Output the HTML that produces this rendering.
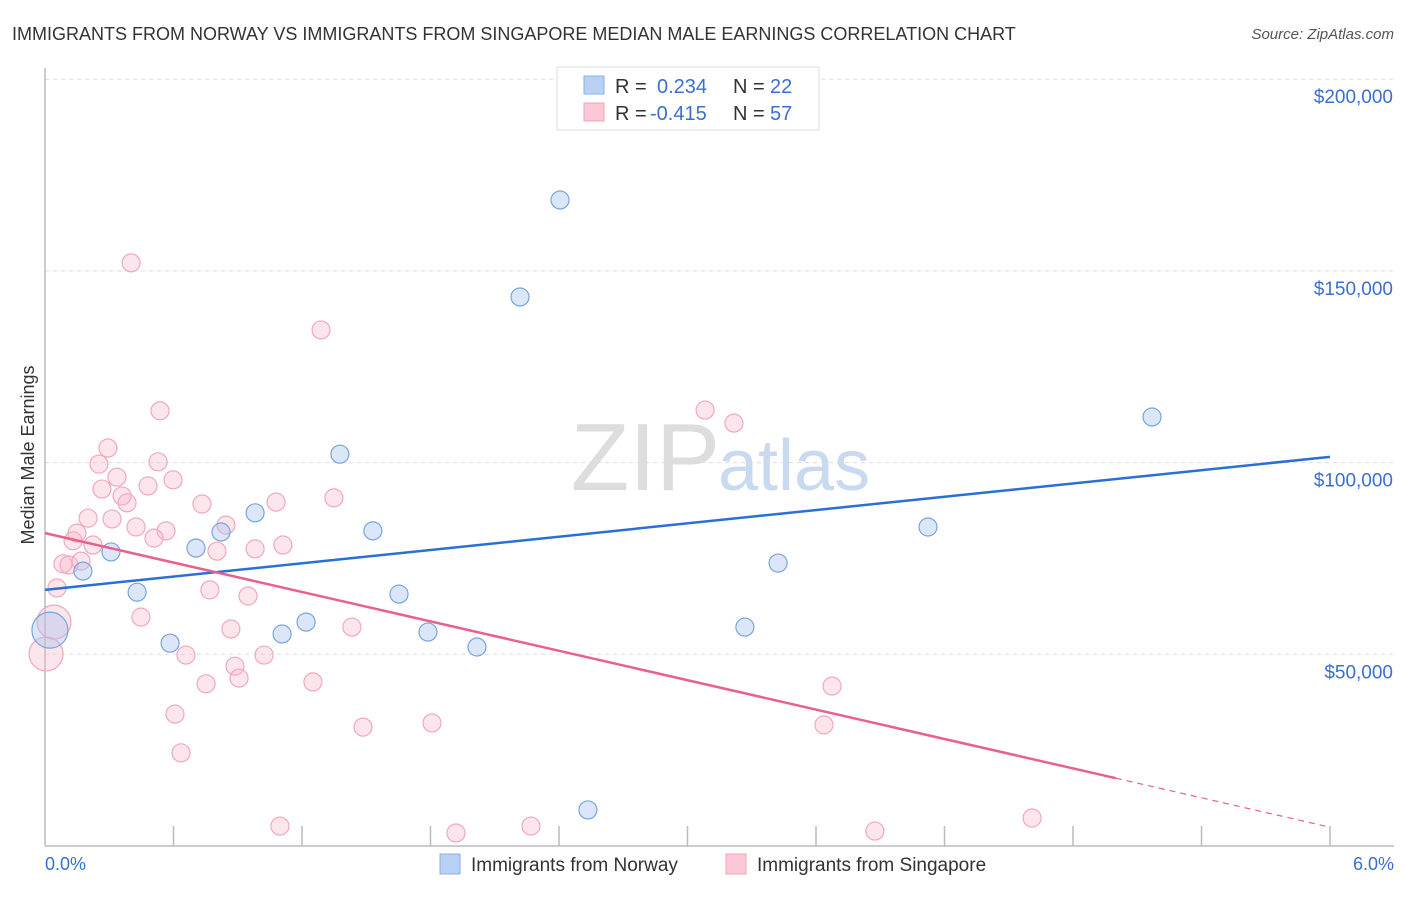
<!DOCTYPE html>
<html><head><meta charset="utf-8"><style>
body{margin:0;background:#fff;font-family:"Liberation Sans",sans-serif;}
svg text{font-family:"Liberation Sans",sans-serif;}
</style></head><body>
<svg width="1406" height="892" viewBox="0 0 1406 892" xmlns="http://www.w3.org/2000/svg">
<text x="12" y="40" font-size="18" fill="#333">IMMIGRANTS FROM NORWAY VS IMMIGRANTS FROM SINGAPORE MEDIAN MALE EARNINGS CORRELATION CHART</text>
<text x="1394" y="39" font-size="15" fill="#555" font-style="italic" text-anchor="end">Source: ZipAtlas.com</text>
<g id="grid"></g>
<text x="720" y="490" font-size="96" fill="#ddd" text-anchor="end" font-family="Liberation Serif">ZIP</text>
<text x="718" y="490" font-size="72" fill="#c9d9f0">atlas</text>
<line x1="45" y1="68" x2="45" y2="846" stroke="#bbb" stroke-width="1.5"/>
<line x1="45" y1="846" x2="1394" y2="846" stroke="#bbb" stroke-width="1.5"/>
<g id="xticks"></g>
<g id="ylabels"></g>
<text x="34" y="455" font-size="18" fill="#333" text-anchor="middle" transform="rotate(-90 34 455)">Median Male Earnings</text>
<text x="45" y="870" font-size="18" fill="#3a6fd0">0.0%</text>
<text x="1394" y="870" font-size="18" fill="#3a6fd0" text-anchor="end">6.0%</text>
<g id="pts"></g>
<g id="trends"></g>
<g>
<rect x="557" y="67" width="262" height="63" fill="#fff" stroke="#ddd"/>
<rect x="584" y="76" width="20" height="18" fill="#b8d0f4" stroke="#8ab0e8"/>
<rect x="584" y="103" width="20" height="18" fill="#fcc8d6" stroke="#f0a0b8"/>
<text x="615" y="93" font-size="20" fill="#333">R = </text><text x="657" y="93" font-size="20" fill="#3a6fd0">0.234</text>
<text x="733" y="93" font-size="20" fill="#333">N = </text><text x="770" y="93" font-size="20" fill="#3a6fd0">22</text>
<text x="615" y="120" font-size="20" fill="#333">R = </text><text x="650" y="120" font-size="20" fill="#3a6fd0">-0.415</text>
<text x="733" y="120" font-size="20" fill="#333">N = </text><text x="770" y="120" font-size="20" fill="#3a6fd0">57</text>
</g>
<g>
<rect x="440" y="854" width="20" height="20" fill="#b8d0f4" stroke="#8ab0e8"/>
<text x="471" y="871" font-size="19" fill="#333">Immigrants from Norway</text>
<rect x="726" y="854" width="20" height="20" fill="#fcc8d6" stroke="#f0a0b8"/>
<text x="757" y="871" font-size="19" fill="#333">Immigrants from Singapore</text>
</g>
</svg>
<script>
const yTicks=[50,100,150,200];
const yTickLabels=["$50,000","$100,000","$150,000","$200,000"];
const xTickCount=10;
const norwayX=[2.405,2.218,1.377,5.169,4.123,1.531,0.981,0.822,0.705,0.308,0.177,3.423,0.430,1.653,1.219,1.107,1.788,3.268,0.584,2.017,2.535,0.023];
const norwayY=[168.5,143.2,102.2,111.9,83.2,82.2,86.9,81.9,77.7,76.7,71.7,73.8,66.2,65.7,58.4,55.3,55.8,57.1,52.9,51.9,9.4,56.3];
const norwayBig=[0,0,0,0,0,0,0,0,0,0,0,0,0,0,0,0,0,0,0,0,0,1];
const singX=[0.402,1.289,0.537,0.294,0.252,0.528,0.336,0.598,0.481,0.266,0.360,0.383,1.349,1.079,0.733,0.201,0.313,0.425,0.565,0.845,0.149,0.509,0.131,0.224,1.111,0.981,0.803,0.084,0.112,0.168,3.082,3.217,0.056,0.770,0.948,0.448,0.042,0.868,1.433,0.658,1.023,0.005,0.887,0.906,0.752,1.251,3.675,0.607,1.485,1.807,3.637,0.635,1.097,1.919,2.269,3.875,4.609];
const singY=[152.1,134.6,113.5,103.8,99.6,100.2,96.2,95.5,93.9,93.1,91.3,89.5,90.8,89.7,89.2,85.5,85.3,83.2,82.2,83.7,81.6,80.3,79.6,78.5,78.5,77.5,76.9,73.6,73.3,74.3,113.7,110.3,67.3,66.8,65.2,59.7,58.4,56.6,57.1,49.8,49.8,50.1,46.9,43.8,42.3,42.8,41.7,34.4,31.0,32.1,31.6,24.3,5.2,3.4,5.2,3.9,7.3];
const singBig=[0,0,0,0,0,0,0,0,0,0,0,0,0,0,0,0,0,0,0,0,0,0,0,0,0,0,0,0,0,0,0,0,0,0,0,0,1,0,0,0,0,1,0,0,0,0,0,0,0,0,0,0,0,0,0,0,0];
const norwayTrend=[66.8,101.5];
const singTrend=[81.6,4.9];
const singSolidEnd=5.0;
const NS="http://www.w3.org/2000/svg";
const X=v=>45+v/6*1285, Y=v=>846-v*191.7/50;
function mk(t,a,p){const e=document.createElementNS(NS,t);for(const k in a)e.setAttribute(k,a[k]);p.appendChild(e);return e;}
const grid=document.getElementById('grid'),yl=document.getElementById('ylabels'),xt=document.getElementById('xticks');
yTicks.forEach((v,i)=>{
 const l=mk('line',{x1:45,x2:1394,y1:Y(v),y2:Y(v),stroke:'#ddd','stroke-dasharray':'4,4'},grid);
 
 
 const t=mk('text',{x:1393,y:Y(v)+24,'font-size':19,fill:'#3a6fd0','text-anchor':'end'},yl);
 t.textContent=yTickLabels[i];
 
 
});
for(let i=1;i<=xTickCount;i++){
 const l=mk('line',{x1:X(i*0.6),x2:X(i*0.6),y1:826,y2:846,stroke:'#bbb','stroke-width':1.5},xt);
 
 
}
const pts=document.getElementById('pts');
singX.forEach((x,i)=>{
 const c=mk('circle',{cx:X(x),cy:Y(singY[i]),r:singBig[i]?17:9,fill:'rgba(248,180,200,0.35)',stroke:'#f0a8bf','stroke-width':1.2},pts);
 
 
});
norwayX.forEach((x,i)=>{
 const c=mk('circle',{cx:X(x),cy:Y(norwayY[i]),r:norwayBig[i]?18:9,fill:'rgba(165,195,240,0.4)',stroke:'#78a4e0','stroke-width':1.2},pts);
 
 
});
const tr=document.getElementById('trends');
const nl=mk('line',{x1:X(0),y1:Y(norwayTrend[0]),x2:X(6),y2:Y(norwayTrend[1]),stroke:'#2a6fd6','stroke-width':2.5},tr);


const sm=singTrend[0]+(singTrend[1]-singTrend[0])*singSolidEnd/6;
const sl=mk('line',{x1:X(0),y1:Y(singTrend[0]),x2:X(singSolidEnd),y2:Y(sm),stroke:'#e8608e','stroke-width':2.5},tr);


const sd=mk('line',{x1:X(singSolidEnd),y1:Y(sm),x2:X(6),y2:Y(singTrend[1]),stroke:'#e8608e','stroke-width':1.2,'stroke-dasharray':'6,5'},tr);


</script>
</body></html>
